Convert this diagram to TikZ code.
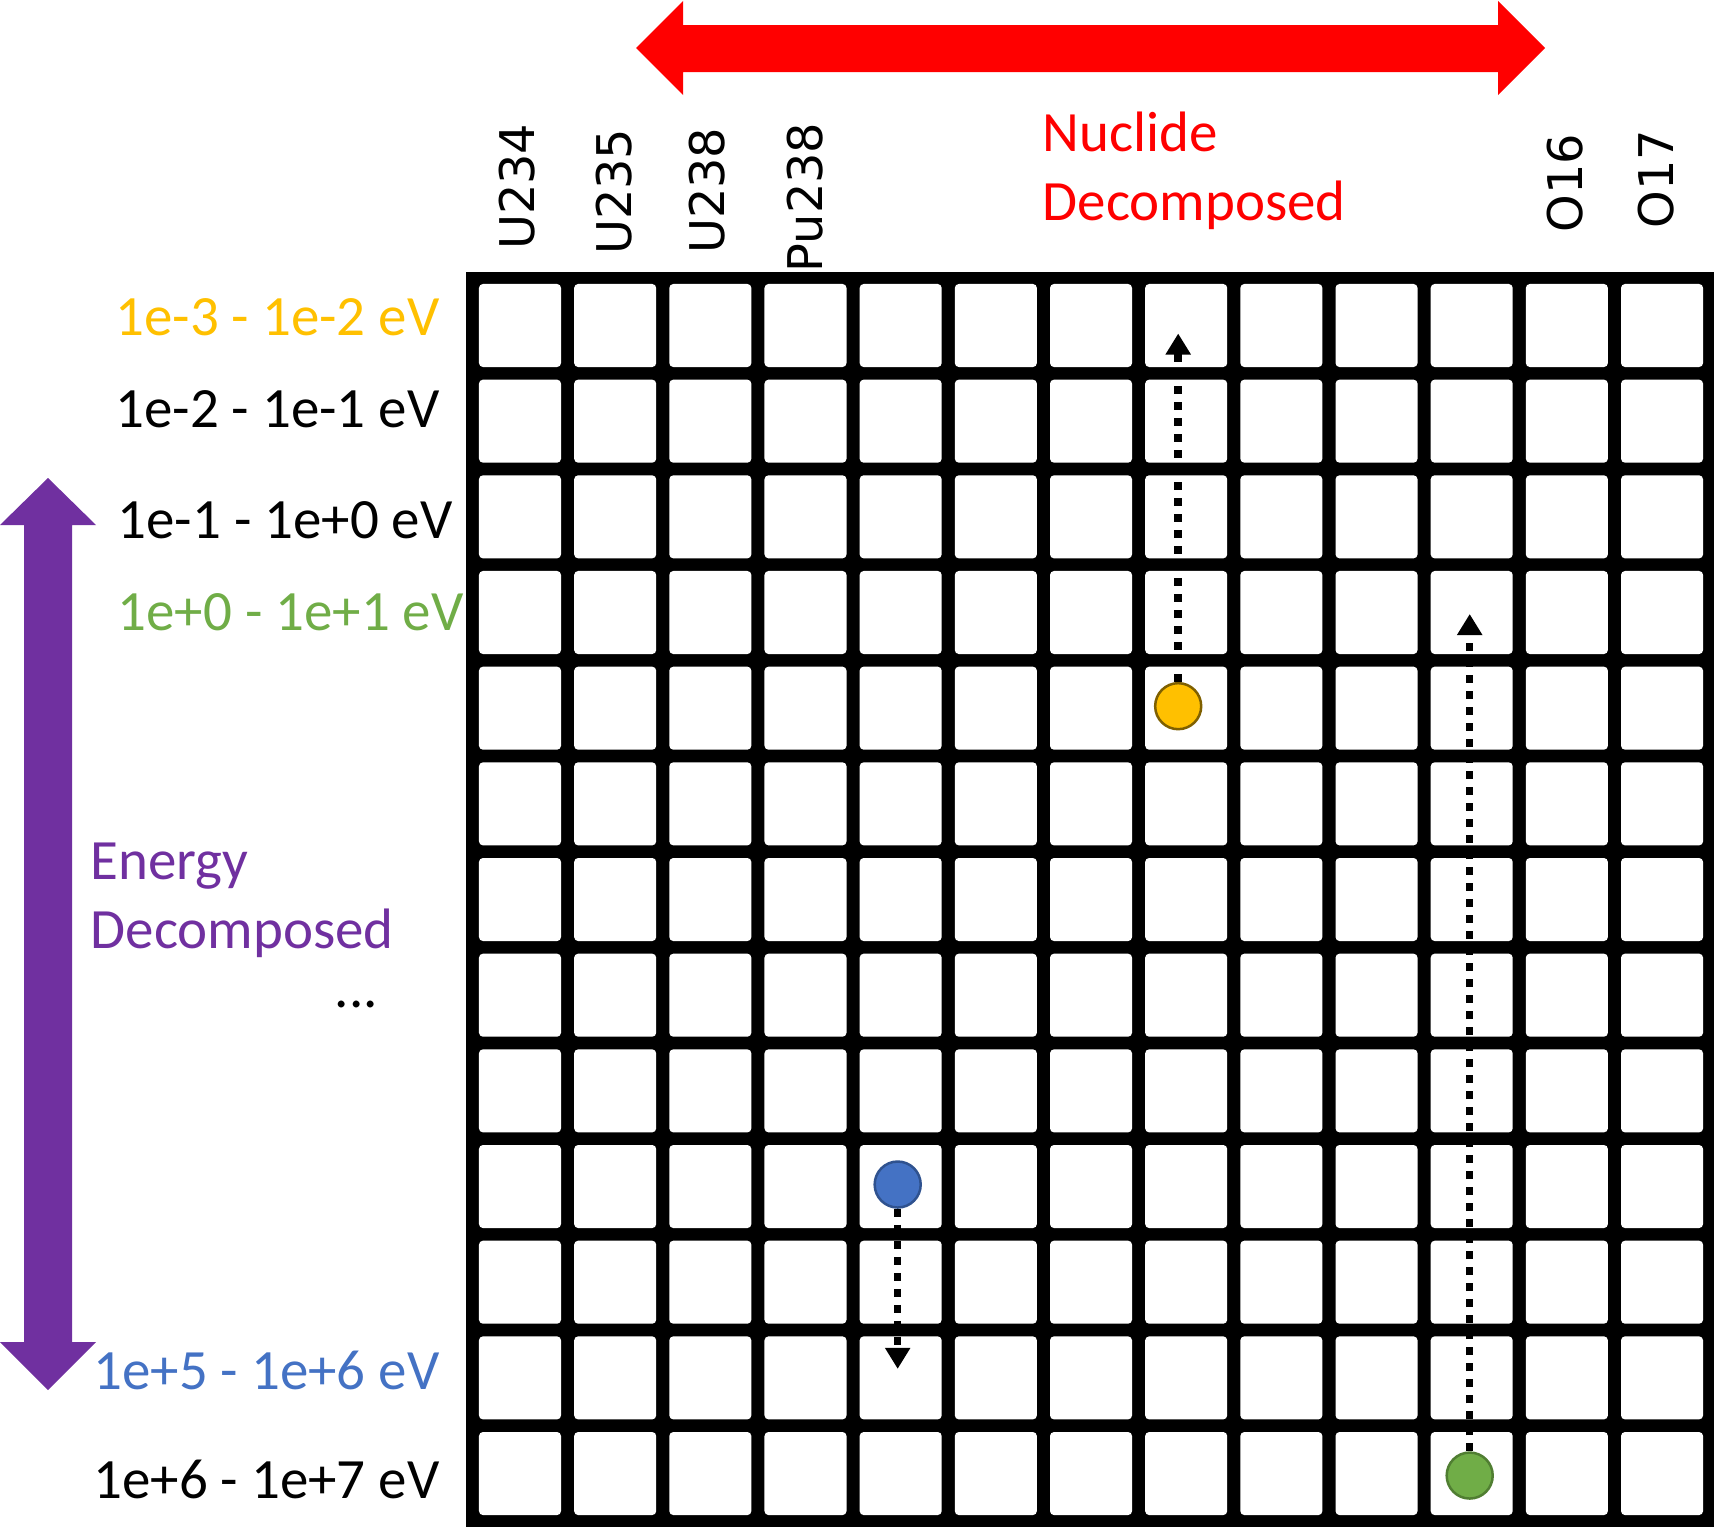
\documentclass[tikz,border=0pt]{standalone}
\usepackage{fontspec}
\setmainfont{Carlito}
\newfontfamily\nucfont{DejaVu Sans}
\usetikzlibrary{arrows.meta,calc}
\definecolor{nucred}{RGB}{255,0,0}
\definecolor{enpurple}{RGB}{112,48,160}
\definecolor{dotgold}{RGB}{255,192,0}
\definecolor{dotgoldedge}{RGB}{127,96,0}
\definecolor{dotblue}{RGB}{68,114,196}
\definecolor{dotblueedge}{RGB}{47,82,143}
\definecolor{dotgreen}{RGB}{112,173,71}
\definecolor{dotgreenedge}{RGB}{80,126,50}
\tikzset{
  cell/.style={rectangle, rounded corners=0.04cm, fill=white,
    minimum width=0.82cm, minimum height=0.83cm, inner sep=0pt},
  nuc-label/.style={font=\nucfont\fontsize{13.6}{16}\selectfont,
    rotate=90, anchor=east, inner sep=0pt},
  en-label/.style={font=\fontsize{16.2}{19.4}\selectfont, inner sep=0pt},
  walker/.style={circle, line width=0.025cm, minimum size=0.46cm, inner sep=0pt},
  walk/.style={line width=0.075cm, dash pattern=on 0.08cm off 0.08cm,
    -{Triangle[width=0.24cm,length=0.21cm]}}
}

\begin{document}
\begin{tikzpicture}[x=0.01cm, y=-0.01cm]
  \useasboundingbox (0,0) rectangle (1714,1527);
  % Nuclide arrow
  \fill[nucred] (636,48) -- (683,1) -- (683,25) -- (1498,25) -- (1498,1) -- (1545,48)
    -- (1498,95) -- (1498,72) -- (683,72) -- (683,95) -- cycle;
  % Energy arrow
  \fill[enpurple] (48,478) -- (96,525) -- (72,525) -- (72,1342) -- (96,1342) -- (48,1390)
    -- (0,1342) -- (24,1342) -- (24,525) -- (0,525) -- cycle;
  % Grid of cells
  \fill[black] (466,272) rectangle (1714,1527);
  \foreach \i in {0,...,12}
    \foreach \j in {0,...,12}
      \node[cell] (c-\i-\j) at ({520+95.17*\i},{325.5+95.67*\j}) {};
  % Nuclide labels
  \foreach \x/\name/\top in {517/U234/123, 614/U235/128, 707/U238/127,
      805/Pu238/122, 1565/O16/133, 1656/O17/129}
    \node[nuc-label] (n-\name) at (\x,\top) {\name};
  \node[en-label, text=nucred, align=left, anchor=base west] (t-nuclide) at (1042,220)
    {Nuclide\\Decomposed};
  % Energy labels
  \node[en-label, text=dotgold, anchor=base east] (e-1) at (440,335) {1e-3 - 1e-2 eV};
  \node[en-label, anchor=base east] (e-2) at (440,427) {1e-2 - 1e-1 eV};
  \node[en-label, anchor=base west] (e-3) at (117,538) {1e-1 - 1e+0 eV};
  \node[en-label, text=dotgreen, anchor=base west] (e-4) at (117,630) {1e+0 - 1e+1 eV};
  \node[en-label, anchor=base west] (e-more) at (334,1007) {...};
  \node[en-label, text=dotblue, anchor=base east] (e-12) at (440,1389) {1e+5 - 1e+6 eV};
  \node[en-label, anchor=base east] (e-13) at (440,1498) {1e+6 - 1e+7 eV};
  \node[en-label, text=enpurple, align=left, anchor=base west] (t-energy) at (90,948)
    {Energy\\Decomposed};
  % Walkers
  \node[walker, fill=dotgold, draw=dotgoldedge] (d-gold) at ($(c-7-4.center)+(-8,-2)$) {};
  \node[walker, fill=dotblue, draw=dotblueedge] (d-blue) at ($(c-4-9.center)+(-3,-2)$) {};
  \node[walker, fill=dotgreen, draw=dotgreenedge] (d-green) at ($(c-10-12.center)+(-2,2)$) {};
  \coordinate (t-gold) at ($(c-7-0.center)+(-8,8)$);
  \coordinate (t-blue) at ($(c-4-11.center)+(-3,-9)$);
  \coordinate (t-green) at ($(c-10-3.center)+(-2,1.5)$);
  \draw[walk] (d-gold) -- (t-gold);
  \draw[walk] (d-blue) -- (t-blue);
  \draw[walk] (d-green) -- (t-green);
\end{tikzpicture}
\end{document}
